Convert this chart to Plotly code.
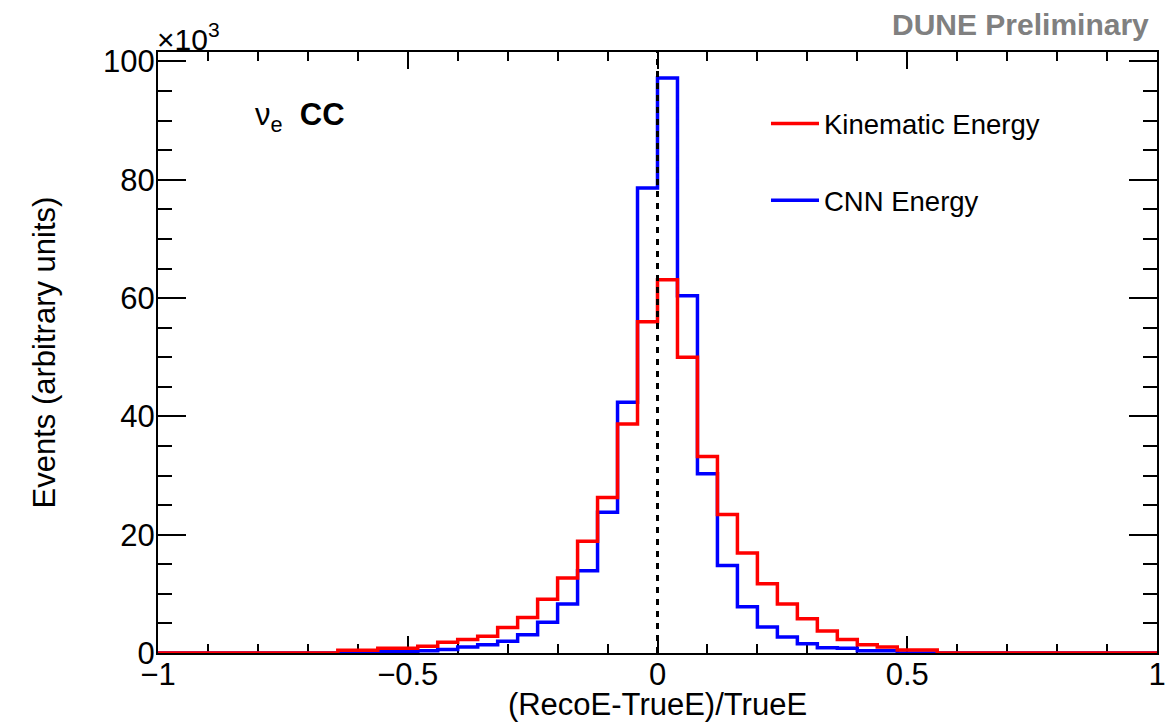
import numpy as np
import plotly.graph_objects as go

# 50 bins of width 0.04 between -1 and 1, contents in units of 10^3 events
bin_edges = np.linspace(-1.0, 1.0, 51)

kinematic_energy = [
    0, 0, 0, 0, 0, 0, 0, 0, 0, 0.45,
    0.45, 0.8, 0.8, 1.15, 1.8, 2.3, 2.85, 4.3, 6.0, 9.1,
    12.7, 18.9, 26.3, 38.7, 56.0, 63.1, 50.0, 33.2, 23.4, 16.9,
    11.7, 8.3, 5.8, 3.7, 2.3, 1.4, 1.0, 0.5, 0.5, 0,
    0, 0, 0, 0, 0, 0, 0, 0, 0, 0,
]

cnn_energy = [
    0, 0, 0, 0, 0, 0, 0, 0, 0, 0,
    0, 0.25, 0.3, 0.4, 0.6, 1.0, 1.4, 2.0, 3.1, 5.2,
    8.3, 13.9, 23.8, 42.4, 78.6, 97.2, 60.4, 30.3, 14.8, 7.8,
    4.4, 2.7, 1.55, 0.9, 0.8, 0.4, 0.4, 0, 0, 0,
    0, 0, 0, 0, 0, 0, 0, 0, 0, 0,
]

FONT = "Liberation Sans"


def _step(values):
    # histogram outline: one y per edge, last value repeated for 'hv' shape
    return list(bin_edges), list(values) + [values[-1]]


fig = go.Figure()

# --- CNN energy (blue), drawn first so red sits on top ---
x_c, y_c = _step(cnn_energy)
fig.add_trace(go.Scatter(
    x=x_c, y=y_c,
    mode='lines',
    line=dict(color='#0000ff', width=3.5, shape='hv'),
    name='CNN Energy',
    legendgroup='cnn', legendrank=2,
))

# --- kinematic energy (red) ---
x_k, y_k = _step(kinematic_energy)
fig.add_trace(go.Scatter(
    x=x_k, y=y_k,
    mode='lines',
    line=dict(color='#ff0000', width=3.5, shape='hv'),
    name='Kinematic Energy',
    legendgroup='kin', legendrank=1,
))

# --- dotted line at zero ---
fig.add_shape(
    type='line', xref='x', yref='paper',
    x0=0, x1=0, y0=0, y1=1,
    line=dict(color='black', width=3, dash='6px,6px'),
)

axis_common = dict(
    showline=True, linecolor='black', linewidth=2,
    mirror='ticks', ticks='inside', tickcolor='black', tickwidth=2,
    showgrid=False, zeroline=False,
    layer='below traces',
    automargin=False,
    tickfont=dict(family=FONT, size=31, color='black'),
)

fig.update_layout(
    width=1172, height=722,
    margin=dict(l=158, r=15, t=52, b=69),
    plot_bgcolor='white', paper_bgcolor='white',
    font=dict(family=FONT, color='black'),
    xaxis=dict(
        range=[-1, 1], dtick=0.5, tick0=-1, ticklen=17,
        ticklabelstandoff=-7,
        minor=dict(dtick=0.1, ticks='inside', ticklen=9, tickcolor='black', tickwidth=2),
        title=dict(text='(RecoE-TrueE)/TrueE', font=dict(family=FONT, size=31), standoff=11),
        **axis_common,
    ),
    yaxis=dict(
        range=[0, 101.6], dtick=20, tick0=0, ticklen=28,
        ticklabelstandoff=-5,
        minor=dict(dtick=5, ticks='inside', ticklen=14, tickcolor='black', tickwidth=2),
        title=dict(text='Events (arbitrary units)', font=dict(family=FONT, size=31), standoff=38),
        **axis_common,
    ),
    legend=dict(
        x=0.6086, y=0.9217, xanchor='left', yanchor='top',
        font=dict(family=FONT, size=27.5),
        bgcolor='rgba(0,0,0,0)',
        itemwidth=48,
        tracegroupgap=38,
    ),
    annotations=[
        dict(text='×10<sup>3</sup>', xref='paper', yref='paper', x=-0.003, y=0.99,
             xanchor='left', yanchor='bottom', showarrow=False,
             font=dict(family=FONT, size=30)),
        dict(text='<b>DUNE Preliminary</b>', xref='paper', yref='paper', x=0.994, y=1.045,
             xanchor='right', yanchor='middle', showarrow=False,
             font=dict(family=FONT, size=30, color='#808080')),
        dict(text='ν<sub>e</sub>\u00a0 <b>CC</b>', xref='paper', yref='paper', x=0.095, y=0.892,
             xanchor='left', yanchor='middle', showarrow=False,
             font=dict(family=FONT, size=31)),
    ],
)

# page body has an 8px default margin; drop it so the figure fills the window
fig.write_html("out.html", config={'displayModeBar': False},
               post_script="document.body.style.margin='0';")
